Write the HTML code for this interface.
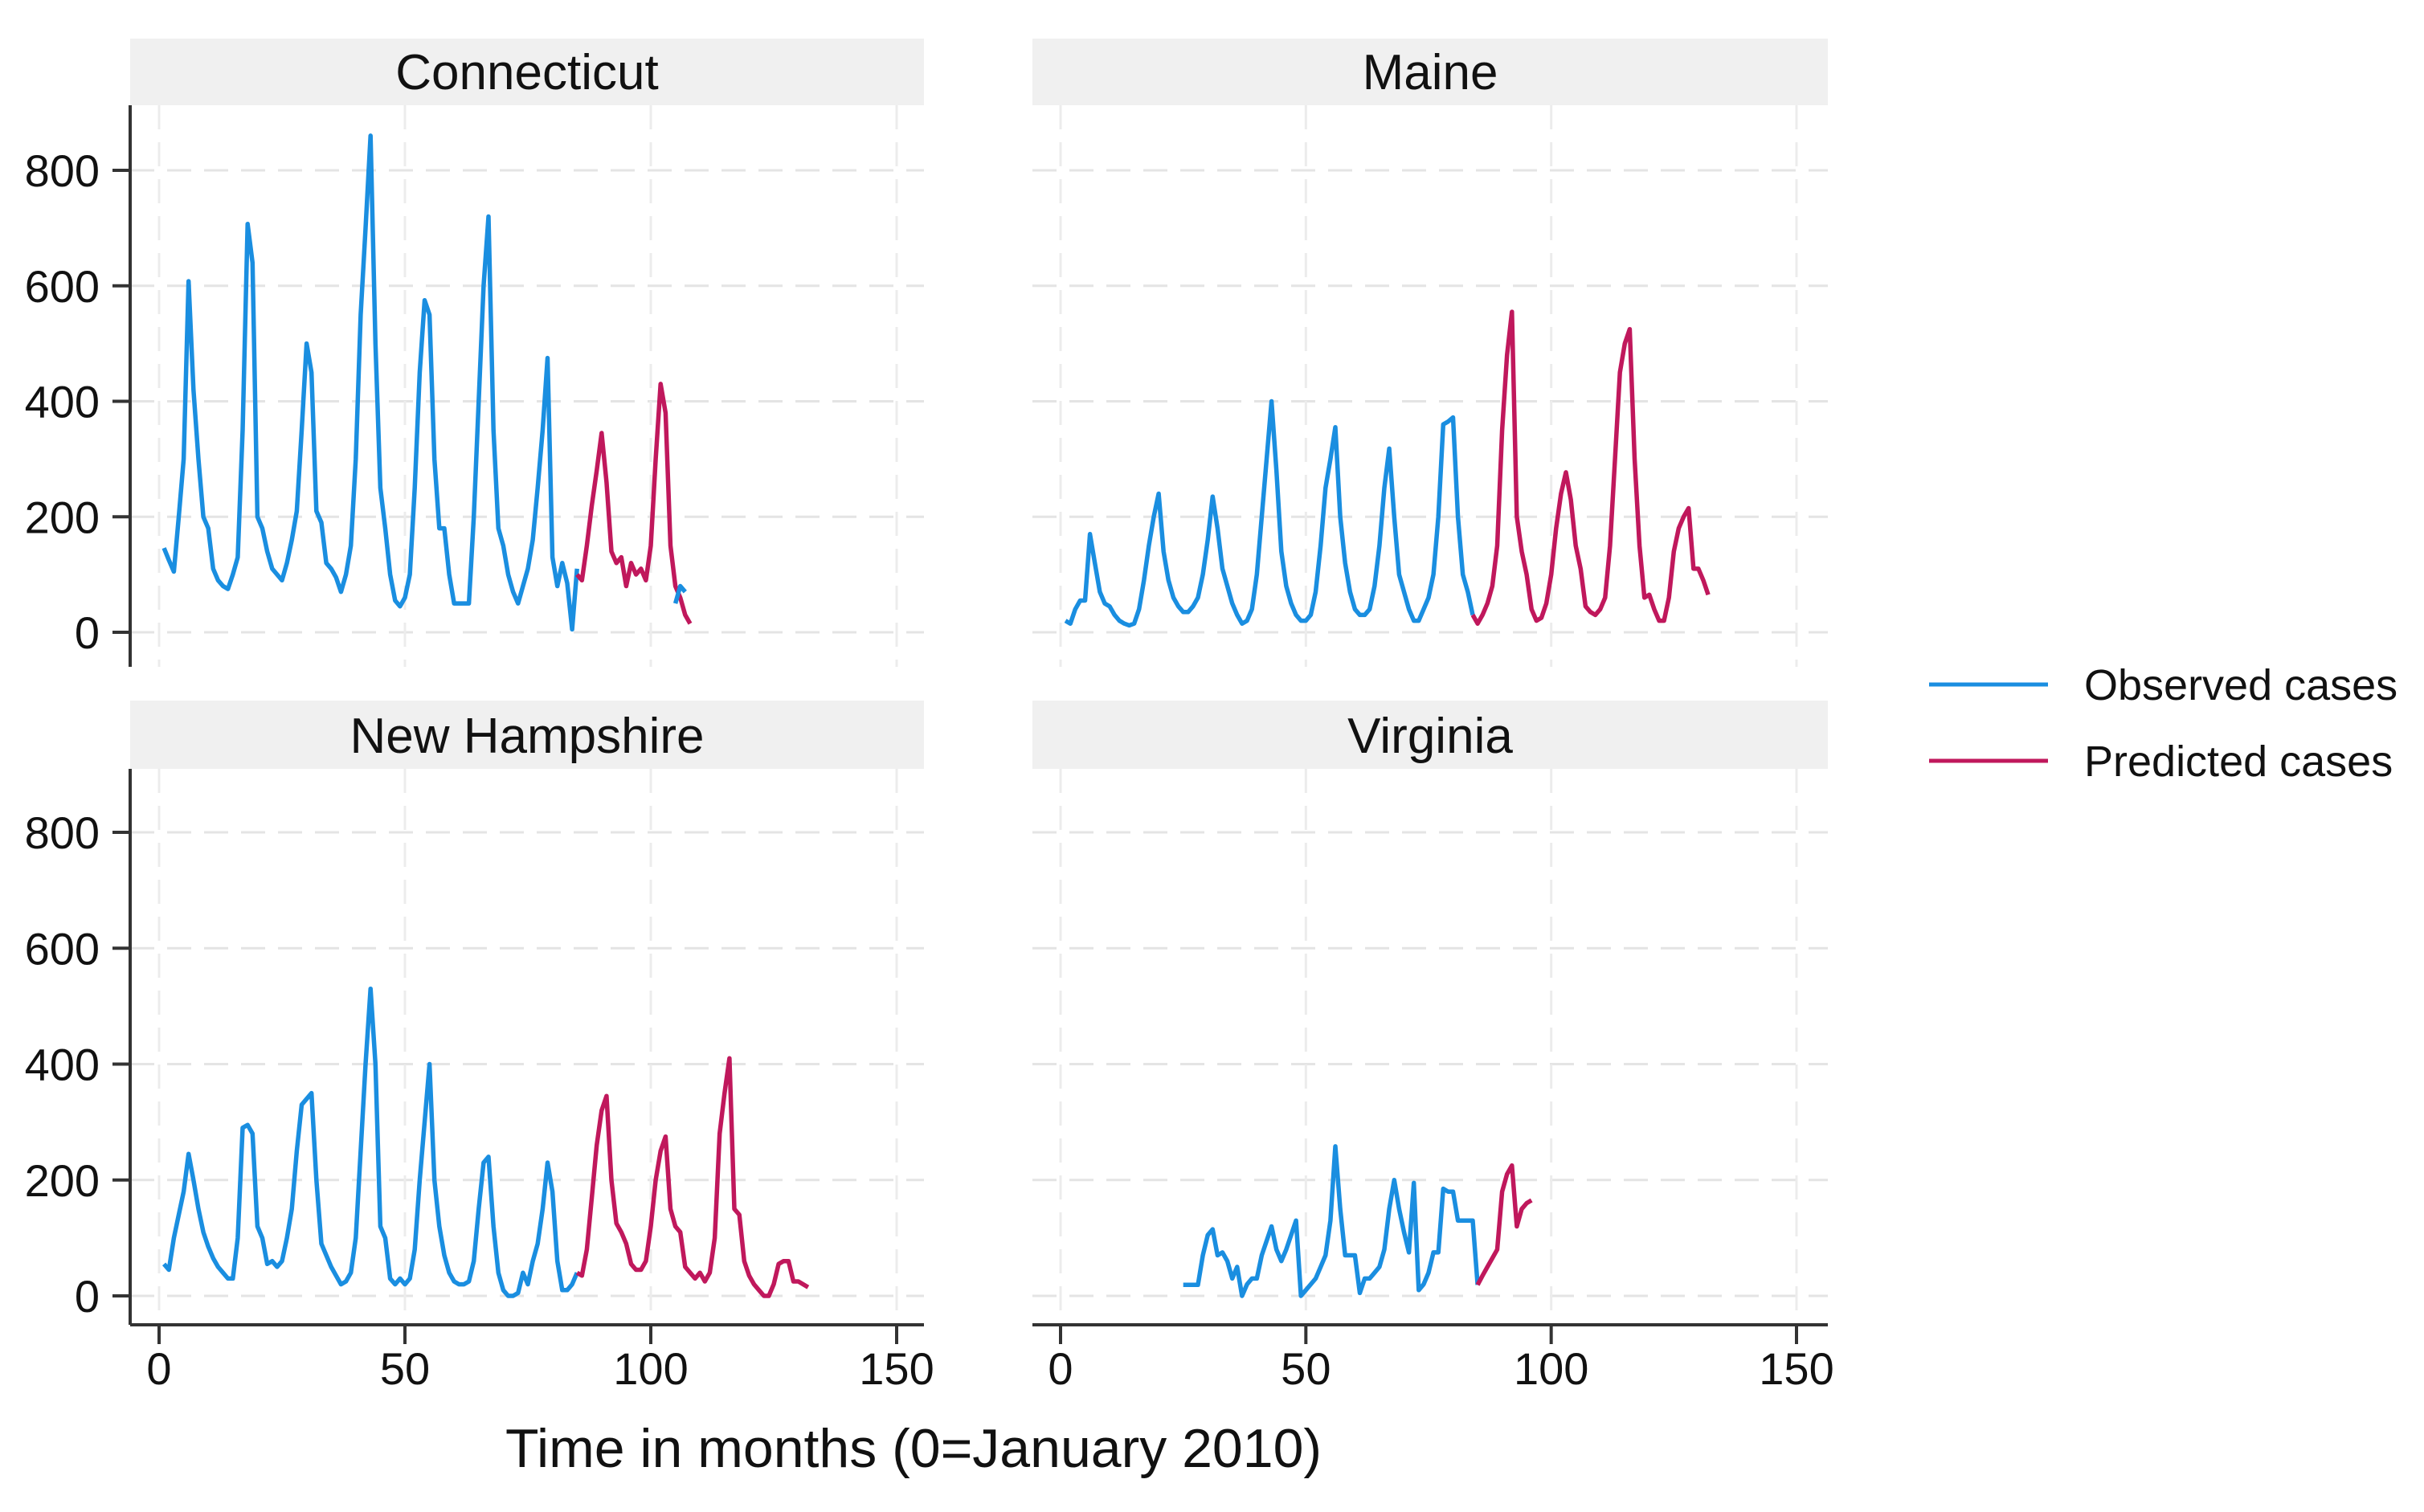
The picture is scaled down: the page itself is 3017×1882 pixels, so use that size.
<!DOCTYPE html>
<html><head><meta charset="utf-8"><style>
html,body{margin:0;padding:0;background:#fff;}
svg{display:block;font-family:"Liberation Sans",Arial,sans-serif;}
</style></head><body>
<svg id="chart" width="3017" height="1882" viewBox="0 0 3017 1882" xmlns="http://www.w3.org/2000/svg">
<rect x="0" y="0" width="3017" height="1882" fill="#fff"/>
<g id="panels"></g>
<text x="1137" y="1826" font-size="68" text-anchor="middle" fill="#111">Time in months (0=January 2010)</text>
<g>
<line x1="2401" y1="852" x2="2549" y2="852" stroke="#1a8ee0" stroke-width="5"/>
<text x="2594" y="871" font-size="54" fill="#111">Observed cases</text>
<line x1="2401" y1="947" x2="2549" y2="947" stroke="#c0185c" stroke-width="5"/>
<text x="2594" y="966" font-size="54" fill="#111">Predicted cases</text>
</g>
</svg>
<script>
const xTicks = [0, 50, 100, 150];
const yTicks = [0, 200, 400, 600, 800];
const panelNames = ["Connecticut", "Maine", "New Hampshire", "Virginia"];

const ctObsStart = 1;
const ctObs = [146,125,105,200,300,608,420,300,200,180,110,90,80,75,100,130,350,707,640,200,180,140,110,100,90,120,160,210,350,500,450,210,190,120,110,95,70,100,150,300,550,700,860,500,250,180,100,55,45,60,100,250,450,575,550,300,180,180,100,50,50,50,50,200,400,600,720,350,180,150,100,70,50,80,110,160,250,350,475,130,80,120,85,5,110];
const ctPredStart = 85;
const ctPred = [100,90,150,220,280,345,260,140,120,130,80,120,100,110,90,150,300,430,380,150,80,60,30,15];
const ctObs2Start = 105;
const ctObs2 = [50,80,70];

const meObsStart = 1;
const meObs = [20,15,40,55,55,170,120,70,50,45,30,20,15,12,15,40,90,150,200,240,140,90,60,45,35,35,45,60,100,160,235,180,110,80,50,30,15,20,40,100,200,300,400,280,140,80,50,30,20,20,30,70,150,250,300,355,200,120,70,40,30,30,40,80,150,250,318,200,100,70,40,20,20,40,60,100,200,360,365,372,200,100,70,30];
const mePredStart = 84;
const mePred = [30,15,30,50,80,150,350,480,555,200,140,100,40,20,25,50,100,180,240,277,230,150,110,45,35,30,40,60,150,300,450,500,525,300,150,60,65,40,20,20,60,140,180,200,215,110,110,90,65];

const nhObsStart = 1;
const nhObs = [55,45,100,140,180,245,200,150,110,85,65,50,40,30,30,100,290,295,280,120,100,55,60,50,60,100,150,250,330,340,350,200,90,70,50,35,20,25,40,100,250,400,530,400,120,100,30,20,30,20,30,80,200,300,400,200,120,70,40,25,20,20,25,60,150,230,240,120,40,10,0,0,5,40,20,60,90,150,230,180,60,10,10,20,40];
const nhPredStart = 85;
const nhPred = [40,35,80,170,260,320,345,200,125,110,90,55,45,45,60,120,200,250,275,150,120,110,50,40,30,40,25,40,100,280,350,410,150,140,60,35,20,10,0,0,20,55,60,60,25,25,20,15];

const vaObsStart = 25;
const vaObs = [19,19,19,19,70,105,115,70,75,60,30,50,0,20,30,30,70,95,120,80,60,80,105,130,0,10,20,30,50,70,130,258,150,70,70,70,5,30,30,40,50,80,150,200,150,110,75,195,10,20,40,75,75,185,180,180,130,130,130,130,19];
const vaPredStart = 85;
const vaPred = [19,35,50,65,80,180,210,225,120,150,160,165];

const NS = "http://www.w3.org/2000/svg";
const OBS = "#1a8ee0", PRED = "#c0185c";
const panels = [
  {name: panelNames[0], left:162, right:1150, hTop:48, hBot:131, y0:787, y800:212, bottom:false, yaxis:true, x0:198, x150:1116,
   series:[[ctObsStart, ctObs, OBS],[ctPredStart, ctPred, PRED],[ctObs2Start, ctObs2, OBS]]},
  {name: panelNames[1], left:1285, right:2275, hTop:48, hBot:131, y0:787, y800:212, bottom:false, yaxis:false, x0:1320, x150:2236,
   series:[[meObsStart, meObs, OBS],[mePredStart, mePred, PRED]]},
  {name: panelNames[2], left:162, right:1150, hTop:872, hBot:957, y0:1613, y800:1036, bottom:true, yaxis:true, x0:198, x150:1116,
   series:[[nhObsStart, nhObs, OBS],[nhPredStart, nhPred, PRED]]},
  {name: panelNames[3], left:1285, right:2275, hTop:872, hBot:957, y0:1613, y800:1036, bottom:true, yaxis:false, x0:1320, x150:2236,
   series:[[vaObsStart, vaObs, OBS],[vaPredStart, vaPred, PRED]]}
];
function mk(tag, attrs){ const e=document.createElementNS(NS,tag); for(const k in attrs) e.setAttribute(k,attrs[k]); return e; }
const root = document.getElementById('panels');
panels.forEach(p=>{
  const slug = p.name.toLowerCase().replace(/ /g,'-');
  const g = mk('g',{});
  
  
  root.appendChild(g);
  const xs = t => p.x0 + (t/150)*(p.x150-p.x0);
  const ys = v => p.y0 - (v/800)*(p.y0-p.y800);
  const plotBottom = p.bottom ? 1649 : 830;
  const hr = mk('rect',{x:p.left,y:p.hTop,width:p.right-p.left,height:p.hBot-p.hTop,fill:'#f0f0f0'});
  
  
  g.appendChild(hr);
  const ht = mk('text',{x:(p.left+p.right)/2,y:p.hBot-20,'font-size':62,'text-anchor':'middle',fill:'#111'});
  ht.textContent = p.name;
  
  
  g.appendChild(ht);
  yTicks.forEach(v=>{
    const l = mk('line',{x1:p.left,x2:p.right,y1:ys(v),y2:ys(v),stroke:'#e4e4e4','stroke-width':3,'stroke-dasharray':'30 16'});
    
    
    g.appendChild(l);
  });
  xTicks.forEach(t=>{
    const l = mk('line',{x1:xs(t),x2:xs(t),y1:p.hBot,y2:plotBottom,stroke:'#ececec','stroke-width':3,'stroke-dasharray':'30 16'});
    
    
    g.appendChild(l);
  });
  if(p.yaxis){
    const ax = mk('line',{x1:p.left,x2:p.left,y1:p.hBot,y2:plotBottom,stroke:'#333','stroke-width':4});
    
    
    g.appendChild(ax);
    yTicks.forEach(v=>{
      const tk = mk('line',{x1:p.left-22,x2:p.left,y1:ys(v),y2:ys(v),stroke:'#333','stroke-width':4});
      
      
      g.appendChild(tk);
      const tl = mk('text',{x:p.left-38,y:ys(v)+20,'font-size':56,'text-anchor':'end',fill:'#111'});
      tl.textContent = v;
      
      
      g.appendChild(tl);
    });
  }
  if(p.bottom){
    const ax = mk('line',{x1:p.left,x2:p.right,y1:1649,y2:1649,stroke:'#333','stroke-width':4});
    
    
    g.appendChild(ax);
    xTicks.forEach(t=>{
      const tk = mk('line',{x1:xs(t),x2:xs(t),y1:1649,y2:1673,stroke:'#333','stroke-width':4});
      
      
      g.appendChild(tk);
      const tl = mk('text',{x:xs(t),y:1723,'font-size':56,'text-anchor':'middle',fill:'#111'});
      tl.textContent = t;
      
      
      g.appendChild(tl);
    });
  }
  p.series.forEach(s=>{
    const start=s[0], vals=s[1];
    const pts = vals.map((v,i)=>xs(start+i).toFixed(1)+','+ys(v).toFixed(1)).join(' ');
    const pl = mk('polyline',{points:pts,fill:'none',stroke:s[2],'stroke-width':5.5,'stroke-linejoin':'round'});
    
    
    g.appendChild(pl);
  });
});
</script>
</body></html>
